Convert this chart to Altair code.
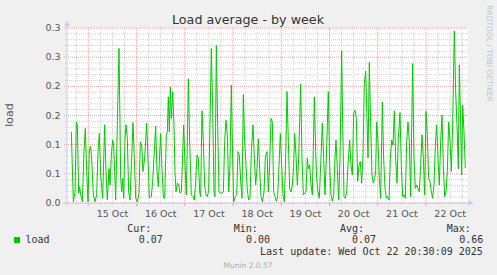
import altair as alt
import pandas as pd

# ---- data (hours since 15 Oct 00:00, load) ----
hours = [
    -8.44, -7.45, -6.62, -5.95, -5.46, -4.79, -4.30, -3.80, -2.97, -2.14, -1.48, -0.81,
    -0.15, 0.51, 1.18, 1.84, 2.50, 3.33, 4.16, 4.82, 5.49, 6.15, 7.15, 8.14, 8.80, 9.47,
    10.30, 10.79, 11.46, 12.12, 12.62, 13.12, 13.61, 14.44, 15.27, 15.77, 16.10, 16.60,
    17.10, 17.59, 18.26, 18.75, 19.42, 20.08, 20.74, 21.57, 22.24, 22.90, 23.56, 24.39,
    25.22, 25.89, 26.55, 27.21, 28.04, 29.04, 29.70, 30.36, 31.36, 32.02, 32.68, 33.51,
    34.18, 34.84, 35.34, 36.00, 36.66, 37.33, 37.99,
    38.82, 39.32, 39.82, 40.31, 40.81, 41.31, 41.97, 42.63, 43.13, 43.63, 44.29, 44.96,
    45.62, 46.28, 46.78, 47.44, 48.11, 48.77, 49.27, 49.77, 50.43, 51.26, 52.09, 52.75,
    53.41, 54.08, 54.74, 55.40, 55.90, 56.56, 57.23, 57.89, 58.55, 59.22, 59.88, 60.54,
    61.21, 61.87, 62.53, 63.03, 63.70, 64.36, 65.02, 65.68, 66.51, 67.18, 67.84, 68.50,
    69.17, 69.83, 70.49, 71.16, 71.82, 72.32, 73.15, 73.81, 74.47, 75.14, 75.80, 76.46,
    77.13, 77.79, 78.45, 79.12, 79.78, 80.44, 81.11, 81.94, 82.60, 83.26, 83.93, 84.59,
    85.25, 85.92, 86.58, 87.41,
    88.07, 88.90, 89.57, 90.23, 90.89, 91.56, 92.22, 92.88, 93.55, 94.21, 94.87, 95.54,
    96.20, 96.86, 97.53, 98.19, 98.85, 99.52, 100.18, 100.84, 101.51, 102.17, 102.67,
    103.33, 103.99, 104.66, 105.65, 106.31, 106.98, 107.64, 108.30, 108.97, 109.47,
    110.13, 110.79, 111.46, 112.45, 113.11, 113.61, 114.27, 114.94, 115.60, 116.43,
    117.09, 117.76, 118.42, 119.41, 120.08, 120.74, 121.40, 122.07, 122.73, 123.23,
    123.89, 124.56, 125.22, 126.05, 126.55, 127.21, 127.87, 128.54, 129.20, 130.03,
    130.69, 131.36, 132.02, 132.68, 133.35, 134.01, 134.67, 135.34, 136.00, 136.66,
    137.33, 137.99, 138.65,
    139.15, 139.81, 140.48, 141.14, 141.80, 142.47, 142.96, 143.46, 144.12, 144.79,
    145.45, 146.28, 146.94, 147.61, 148.27, 148.93, 149.60, 150.26, 150.92, 151.59,
    152.25, 152.91, 153.58, 154.24, 155.07, 155.73, 156.40, 157.06, 157.72, 158.39,
    159.05, 159.71, 160.38, 161.37, 162.03, 162.70, 163.36, 164.02, 164.69, 165.35,
    166.01, 166.68, 167.34, 168.00, 168.67, 169.33, 169.99, 170.66, 171.32, 171.98,
    172.65, 173.31, 173.97, 174.64, 175.30, 175.96, 176.63, 177.29, 177.95, 178.62,
    179.28, 179.94, 180.61, 181.27, 182.10, 182.76, 183.43, 184.09, 184.59, 185.25,
    185.75, 186.25, 186.91, 187.57,
]
load = [
    0.122, 0.002, 0.019, 0.139, 0.134, 0.017, 0.028, 0.014, 0.002, 0.088, 0.128, 0.054,
    0.002, 0.091, 0.097, 0.065, 0.014, 0.002, 0.014, 0.088, 0.119, 0.048, 0.008, 0.134,
    0.054, 0.005, 0.059, 0.031, 0.082, 0.108, 0.099, 0.054, 0.005, 0.134, 0.265, 0.134,
    0.042, 0.019, 0.042, 0.008, 0.111, 0.134, 0.111, 0.019, 0.005, 0.077, 0.138, 0.077,
    0.008, 0.002, 0.017, 0.105, 0.099, 0.054, 0.077, 0.137, 0.077, 0.009, 0.011, 0.037,
    0.077, 0.132, 0.054, 0.028, 0.071, 0.119, 0.059, 0.009, 0.008,
    0.117, 0.122, 0.182, 0.122, 0.199, 0.145, 0.191, 0.134, 0.054, 0.019, 0.034, 0.031,
    0.017, 0.019, 0.065, 0.134, 0.065, 0.014, 0.105, 0.213, 0.105, 0.014, 0.011, 0.005,
    0.037, 0.082, 0.077, 0.019, 0.011, 0.158, 0.105, 0.031, 0.014, 0.011, 0.022, 0.134,
    0.265, 0.162, 0.019, 0.011, 0.270, 0.134, 0.019, 0.017, 0.017, 0.019, 0.105, 0.142,
    0.117, 0.019, 0.065, 0.202, 0.077, 0.002, 0.011, 0.014, 0.088, 0.082, 0.037, 0.008,
    0.186, 0.105, 0.065, 0.022, 0.005, 0.008, 0.088, 0.134, 0.077, 0.031, 0.059, 0.110,
    0.059, 0.011, 0.002, 0.019,
    0.079, 0.088, 0.019, 0.065, 0.145, 0.139, 0.019, 0.011, 0.003, 0.011, 0.065, 0.119,
    0.065, 0.014, 0.002, 0.077, 0.191, 0.105, 0.025, 0.019, 0.031, 0.065, 0.119,
    0.082, 0.031, 0.077, 0.204, 0.077, 0.014, 0.017, 0.019, 0.077, 0.059,
    0.065, 0.031, 0.014, 0.182, 0.088, 0.042, 0.019, 0.008, 0.065, 0.137,
    0.077, 0.014, 0.077, 0.191, 0.065, 0.014, 0.003, 0.014, 0.077, 0.108,
    0.059, 0.005, 0.077, 0.261, 0.134, 0.011, 0.008, 0.019, 0.065, 0.108,
    0.065, 0.048, 0.154, 0.159, 0.145, 0.037, 0.065, 0.071, 0.034, 0.082,
    0.205, 0.226, 0.145,
    0.077, 0.241, 0.134, 0.048, 0.034, 0.042, 0.055, 0.139, 0.105, 0.042,
    0.008, 0.173, 0.077, 0.025, 0.008, 0.011, 0.005, 0.077, 0.108, 0.099,
    0.158, 0.077, 0.034, 0.111, 0.155, 0.065, 0.011, 0.014, 0.008, 0.105,
    0.139, 0.105, 0.011, 0.239, 0.077, 0.025, 0.031, 0.025, 0.019, 0.065,
    0.117, 0.077, 0.014, 0.157, 0.117, 0.042, 0.037, 0.019, 0.008, 0.031,
    0.099, 0.134, 0.077, 0.031, 0.105, 0.151, 0.065, 0.011, 0.019, 0.054,
    0.139, 0.108, 0.054, 0.134, 0.295, 0.191, 0.134, 0.059, 0.237, 0.134,
    0.048, 0.168, 0.122, 0.060,
]

y_tick_values = [0.0, 0.05, 0.10, 0.15, 0.20, 0.25, 0.30]
y_tick_labels = ["0.0", "0.1", "0.1", "0.2", "0.2", "0.3", "0.3"]
day_label_hours = [12, 36, 60, 84, 108, 132, 156, 180]
day_labels = ["15 Oct", "16 Oct", "17 Oct", "18 Oct", "19 Oct", "20 Oct", "21 Oct", "22 Oct"]
midnight_hours = [0, 24, 48, 72, 96, 120, 144, 168]
six_hour_marks = [-6, 6, 12, 18, 30, 36, 42, 54, 60, 66, 78, 84, 90, 102, 108, 114,
                  126, 132, 138, 150, 156, 162, 174, 180, 186]
minor_y = [0.01, 0.02, 0.03, 0.04, 0.06, 0.07, 0.08, 0.09, 0.11, 0.12, 0.13, 0.14,
           0.16, 0.17, 0.18, 0.19, 0.21, 0.22, 0.23, 0.24, 0.26, 0.27, 0.28, 0.29]

legend_headers = ["Cur:", "Min:", "Avg:", "Max:"]
legend_values = ["0.07", "0.00", "0.07", "0.66"]
series_name = "load"
title_text = "Load average - by week"
update_text = "Last update: Wed Oct 22 20:30:09 2025"
footer_text = "Munin 2.0.57"
side_text = "RRDTOOL / TOBI OETIKER"

W, H = 401, 175
SANS = "DejaVu Sans"
MONO = "DejaVu Sans Mono"

xs = alt.Scale(domain=[-10.6, 188.9], nice=False, zero=False)
ys = alt.Scale(domain=[0, 0.3], nice=False, zero=False)

df = pd.DataFrame({"h": hours, "load": load})
one = pd.DataFrame({"k": [0]})

layers = []

# minor grid
layers.append(alt.Chart(pd.DataFrame({"v": minor_y})).mark_rule(
    color="#d4d4d4", strokeDash=[1, 1], strokeWidth=1).encode(
    y=alt.Y("v:Q", scale=ys, axis=None), x=alt.value(-2), x2=alt.value(W)))
layers.append(alt.Chart(pd.DataFrame({"h": six_hour_marks})).mark_rule(
    color="#d4d4d4", strokeDash=[1, 1], strokeWidth=1).encode(
    x=alt.X("h:Q", scale=xs, axis=None), y=alt.value(0), y2=alt.value(H + 2)))
# major grid
layers.append(alt.Chart(pd.DataFrame({"v": y_tick_values})).mark_rule(
    color="#f0a4a4", strokeDash=[1, 1], strokeWidth=1).encode(
    y=alt.Y("v:Q", scale=ys, axis=None), x=alt.value(-3), x2=alt.value(W)))
layers.append(alt.Chart(pd.DataFrame({"h": midnight_hours})).mark_rule(
    color="#f0a4a4", strokeDash=[1, 1], strokeWidth=1).encode(
    x=alt.X("h:Q", scale=xs, axis=None), y=alt.value(0), y2=alt.value(H)))
layers.append(alt.Chart(pd.DataFrame({"h": midnight_hours})).mark_rule(
    color="#f0a4a4", strokeWidth=1).encode(
    x=alt.X("h:Q", scale=xs, axis=None), y=alt.value(H), y2=alt.value(H + 3)))

# axes lines + arrows
layers.append(alt.Chart(one).mark_rule(color="#c8ccf0", strokeWidth=1).encode(
    x=alt.value(0), y=alt.value(-2), y2=alt.value(H + 3)))
layers.append(alt.Chart(one).mark_rule(color="#c8ccf0", strokeWidth=1).encode(
    y=alt.value(H), x=alt.value(-4), x2=alt.value(W + 2)))
layers.append(alt.Chart(one).mark_point(shape="triangle-up", filled=True, color="#c8ccf0",
                                        size=34, opacity=1).encode(
    x=alt.value(0), y=alt.value(-4.5)))
layers.append(alt.Chart(one).mark_point(shape="triangle-right", filled=True, color="#c8ccf0",
                                        size=34, opacity=1).encode(
    x=alt.value(W + 3), y=alt.value(H)))

# data line
layers.append(alt.Chart(df).mark_line(color="#00cc00", strokeWidth=1, interpolate="linear").encode(
    x=alt.X("h:Q", scale=xs, axis=None), y=alt.Y("load:Q", scale=ys, axis=None)))

# y tick labels
layers.append(alt.Chart(pd.DataFrame({"v": y_tick_values, "lab": y_tick_labels})).mark_text(
    font=SANS, fontSize=9.5, color="#555555", align="right", baseline="middle").encode(
    y=alt.Y("v:Q", scale=ys, axis=None), x=alt.value(-6.5), text="lab:N"))
# x tick labels
layers.append(alt.Chart(pd.DataFrame({"h": day_label_hours, "lab": day_labels})).mark_text(
    font=SANS, fontSize=9.5, color="#555555", align="center", baseline="alphabetic").encode(
    x=alt.X("h:Q", scale=xs, axis=None), y=alt.value(188.5), text="lab:N"))


def label(text, x, y, **kw):
    return alt.Chart(one).mark_text(text=text, **kw).encode(x=alt.value(x), y=alt.value(y))


layers.append(label(title_text, 181, -4, font=SANS, fontSize=12.7, color="#333333",
                    align="center", baseline="alphabetic"))
layers.append(label(series_name, -57, 87, font=SANS, fontSize=11, color="#555555",
                    align="center", baseline="middle", angle=270))
layers.append(label(side_text, 421.5, 25.5, font=SANS, fontSize=7.5, color="#c4c4c4",
                    align="center", baseline="middle", angle=90))

# legend
layers.append(alt.Chart(one).mark_square(color="#00cc00", size=36, opacity=1).encode(
    x=alt.value(-50), y=alt.value(212)))
layers.append(label(series_name, -41.5, 215.3, font=MONO, fontSize=10, color="#333333",
                    align="left", baseline="alphabetic"))
header_x = [60.2, 166.8, 273.0, 379.8]
value_x = [71.7, 179.0, 285.0, 392.3]
for hx, vx, ht, vt in zip(header_x, value_x, legend_headers, legend_values):
    layers.append(label(ht, hx, 204.3, font=MONO, fontSize=10, color="#333333",
                        align="left", baseline="alphabetic"))
    layers.append(label(vt, vx, 215.3, font=MONO, fontSize=10, color="#333333",
                        align="left", baseline="alphabetic"))
layers.append(label(update_text, 415.8, 226.6, font=MONO, fontSize=10, color="#333333",
                    align="right", baseline="alphabetic"))
layers.append(label(footer_text, 181, 240, font=SANS, fontSize=7.5, color="#aaaaaa",
                    align="center", baseline="alphabetic"))

chart = alt.layer(*layers).properties(
    width=W, height=H,
    autosize=alt.AutoSizeParams(type="none"),
    padding={"left": 67, "top": 28, "right": 29, "bottom": 72},
    background="#f0f0f0",
).configure_view(fill="#ffffff", stroke=None)

chart.save("out.html", embed_options={"renderer": "svg", "actions": False})
